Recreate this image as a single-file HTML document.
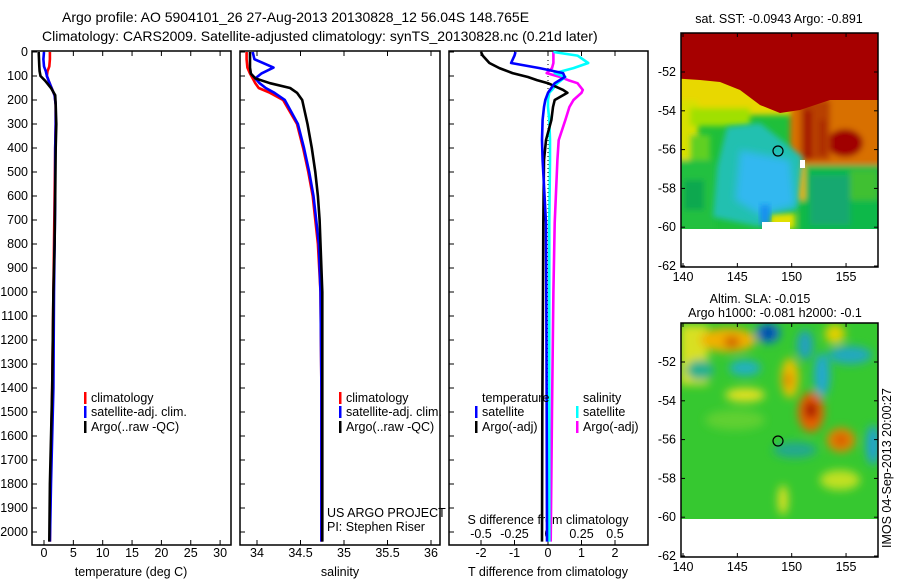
<!DOCTYPE html>
<html><head><meta charset="utf-8"><style>
html,body{margin:0;padding:0;background:#fff;}
svg{display:block;font-family:"Liberation Sans",sans-serif;}
text{font-size:12.5px;fill:#000;}
</style></head><body>
<svg id="chart" width="900" height="580" viewBox="0 0 900 580" xmlns="http://www.w3.org/2000/svg">
<defs>
<filter id="blur3" x="-20%" y="-20%" width="140%" height="140%"><feGaussianBlur stdDeviation="3"/></filter>
<filter id="blur4" x="-20%" y="-20%" width="140%" height="140%"><feGaussianBlur stdDeviation="4"/></filter>
<filter id="blur5" x="-30%" y="-30%" width="160%" height="160%"><feGaussianBlur stdDeviation="4.5"/></filter>
<clipPath id="clipM1"><rect x="681" y="33" width="197" height="196"/></clipPath>
<clipPath id="clipM2"><rect x="681" y="323" width="197" height="196"/></clipPath>
</defs>
<text x="62" y="22" style="font-size:14px">Argo profile: AO 5904101_26 27-Aug-2013 20130828_12 56.04S 148.765E</text>
<text x="42" y="41" style="font-size:14px">Climatology: CARS2009. Satellite-adjusted climatology: synTS_20130828.nc (0.21d later)</text>

<!-- Map 1 -->
<g>
<text x="779" y="23" text-anchor="middle">sat. SST: -0.0943 Argo: -0.891</text>
<g clip-path="url(#clipM1)">
<rect x="681" y="33" width="197" height="196" fill="#1fbf3a"/>
<g filter="url(#blur3)">
<rect x="670" y="70" width="140" height="45" fill="#e8d800"/>
<rect x="670" y="100" width="28" height="60" fill="#d8e000"/>
<rect x="690" y="108" width="60" height="18" fill="#a0e000"/>
<rect x="790" y="90" width="100" height="80" fill="#d87000"/>
<ellipse cx="845" cy="143" rx="18" ry="14" fill="#a00000"/>
<rect x="800" y="100" width="30" height="60" fill="#b84000"/>
<rect x="805" y="110" width="6" height="50" fill="#a00000"/>
<rect x="820" y="120" width="5" height="35" fill="#a82000"/>
<rect x="800" y="165" width="90" height="70" fill="#10b848"/>
<rect x="810" y="175" width="40" height="50" fill="#18a870"/>
<rect x="850" y="170" width="28" height="30" fill="#40c030"/>
<rect x="793" y="165" width="12" height="35" fill="#f0b000"/>
<rect x="670" y="160" width="45" height="70" fill="#20c040"/>
<rect x="690" y="135" width="20" height="25" fill="#60d020"/>
<rect x="684" y="180" width="20" height="30" fill="#10a850"/>
<rect x="770" y="213" width="25" height="16" fill="#e0e000"/>
</g>
<path d="M670 33 H890 V100 L830 100 L800 110 L780 113 L760 105 L740 90 L720 82 L700 80 L670 78 Z" fill="#a60000"/>
<path d="M727 127 L760 123 L803 157 L797 210 L770 213 L760 227 L713 217 L717 167 Z" fill="#20c0b0" filter="url(#blur3)"/>
<path d="M740 150 L790 160 L795 205 L760 215 L735 200 Z" fill="#30b8f0" filter="url(#blur4)"/>
<rect x="760" y="205" width="10" height="20" fill="#1890f0" filter="url(#blur3)"/>
<rect x="762" y="222" width="28" height="8" fill="#fff"/>
<rect x="800" y="160" width="5" height="8" fill="#fff"/>
</g>
<rect x="681" y="33" width="197" height="234" fill="none" stroke="#000" stroke-width="1.5"/>
<circle cx="778" cy="151" r="5" fill="none" stroke="#000" stroke-width="1.2"/>
</g>

<!-- Map 2 -->
<g>
<text x="760" y="303" text-anchor="middle">Altim. SLA: -0.015</text>
<text x="775" y="317" text-anchor="middle">Argo h1000: -0.081 h2000: -0.1</text>
<g clip-path="url(#clipM2)">
<rect x="681" y="323" width="197" height="196" fill="#36c830"/>
<g filter="url(#blur5)">
<rect x="680" y="325" width="28" height="60" fill="#d8e020"/>
<ellipse cx="728" cy="340" rx="28" ry="12" fill="#f0b000"/>
<ellipse cx="732" cy="342" rx="8" ry="6" fill="#d06000"/>
<ellipse cx="768" cy="333" rx="12" ry="10" fill="#1070d0"/>
<ellipse cx="768" cy="333" rx="5" ry="5" fill="#002080"/>
<ellipse cx="745" cy="368" rx="16" ry="8" fill="#20b0c0"/>
<ellipse cx="700" cy="370" rx="14" ry="10" fill="#20b090"/>
<ellipse cx="790" cy="378" rx="9" ry="20" fill="#e8c000"/>
<ellipse cx="788" cy="380" rx="4" ry="8" fill="#e08000"/>
<ellipse cx="805" cy="345" rx="8" ry="15" fill="#20a0c0"/>
<ellipse cx="822" cy="375" rx="8" ry="22" fill="#20a8d0"/>
<ellipse cx="850" cy="355" rx="22" ry="9" fill="#20a8c0"/>
<ellipse cx="835" cy="334" rx="10" ry="10" fill="#e0d000"/>
<ellipse cx="811" cy="412" rx="13" ry="20" fill="#e86000"/>
<ellipse cx="811" cy="410" rx="6" ry="9" fill="#a00000"/>
<ellipse cx="841" cy="440" rx="14" ry="12" fill="#e88000"/>
<ellipse cx="841" cy="440" rx="6" ry="5" fill="#d05000"/>
<ellipse cx="873" cy="445" rx="7" ry="20" fill="#20a0d0"/>
<ellipse cx="795" cy="450" rx="22" ry="8" fill="#22a890"/>
<ellipse cx="745" cy="395" rx="20" ry="7" fill="#e0e020"/>
<ellipse cx="735" cy="420" rx="30" ry="10" fill="#60d030"/>
<ellipse cx="840" cy="480" rx="20" ry="10" fill="#c0e020"/>
<ellipse cx="783" cy="500" rx="5" ry="15" fill="#e0e020"/>
</g>
</g>
<rect x="681" y="323" width="197" height="234" fill="none" stroke="#000" stroke-width="1.5"/>
<circle cx="778" cy="441" r="5" fill="none" stroke="#000" stroke-width="1.2"/>
<text transform="translate(891,548) rotate(-90)">IMOS 04-Sep-2013 20:00:27</text>
</g>
<g id="dyn"></g>
</svg>
<script>
// ---- data ----
const depthTicks = [0,100,200,300,400,500,600,700,800,900,1000,1100,1200,1300,1400,1500,1600,1700,1800,1900,2000];
const tTicks = [0,5,10,15,20,25,30];
const sTicks = [34,34.5,35,35.5,36];
const sTickLabels = ["34","34.5","35","35.5","36"];
const dtTicks = [-2,-1,0,1,2];
const dsTicks = [-0.5,-0.25,0,0.25,0.5];
const dsTickLabels = ["-0.5","-0.25","0","0.25","0.5"];
const latTicks = [-52,-54,-56,-58,-60,-62];
const lonTicks = [140,145,150,155];

const depth = [0,30,60,80,100,120,150,180,220,300,400,600,800,1000,1400,1800,2040];
const tempClim = [1.0,1.0,0.9,0.6,0.5,0.8,1.3,1.8,2.0,2.0,1.9,1.8,1.7,1.6,1.4,1.1,1.0];
const tempSat = [0.0,-0.1,0.0,0.3,0.5,0.8,1.3,1.8,2.0,2.0,1.9,1.9,1.8,1.7,1.6,1.2,1.0];
const tempArgo = [-0.9,-0.85,-0.8,-0.75,-0.6,0.2,1.2,1.9,2.0,2.1,2.0,1.9,1.8,1.6,1.4,1.0,0.9];

const salDepth = [0,30,65,90,110,130,150,170,200,300,400,500,600,700,800,1000,1400,2040];
const salClim = [33.88,33.88,33.89,33.92,33.95,33.98,34.02,34.15,34.3,34.46,34.53,34.59,34.64,34.67,34.70,34.73,34.74,34.74];
const salSat = [33.95,33.97,34.19,34.05,33.98,34.03,34.10,34.2,34.32,34.47,34.54,34.6,34.65,34.68,34.71,34.73,34.74,34.74];
const salArgo = [33.92,33.92,33.92,33.93,33.98,34.15,34.38,34.46,34.52,34.58,34.63,34.67,34.70,34.72,34.73,34.75,34.75,34.75];

const dDepth = [0,15,46,67,88,104,117,130,158,170,200,229,283,367,450,712,1000,1500,2040];
const dtSat = [-0.97,-1.0,-1.1,-0.25,0.45,0.5,0.35,0.2,0.06,0.0,-0.08,-0.12,-0.16,-0.18,-0.16,-0.06,-0.05,-0.04,-0.03];
const dtArgo = [-2.0,-1.95,-1.75,-1.45,-1.06,-0.6,-0.33,0.0,0.45,0.58,0.2,0.15,0.1,-0.06,-0.12,-0.14,-0.15,-0.17,-0.18];
const dsSat = [0.04,0.22,0.3,0.19,0.05,0.13,0.1,0.07,0.03,0.01,0.0,0.0,0.01,0.015,0.015,0.01,0.01,0.01,0.01];
const dsArgo = [0.04,0.04,0.04,0.03,-0.01,0.09,0.15,0.22,0.26,0.25,0.19,0.16,0.13,0.08,0.07,0.05,0.04,0.03,0.02];

// ---- scales ----
const yD = d => 52 + d*0.24;
const xT = t => 44 + t*5.87;
const xS = s => 257 + (s-34)*87;
const xDT = v => 548 + v*33.5;
const xDS = v => 548 + v*134;
const yLat1 = l => 72 + (-52 - l)*19.4;
const yLat2 = l => 362 + (-52 - l)*19.4;
const xLon = l => 683 + (l-140)*10.87;

const NS = "http://www.w3.org/2000/svg";
const root = document.getElementById('dyn');
function mk(tag, attrs, parent){
  const e = document.createElementNS(NS, tag);
  for (const k in attrs) e.setAttribute(k, attrs[k]);
  (parent||root).appendChild(e);
  return e;
}
function txt(x,y,s,anchor,parent){
  const t = mk('text',{x:x,y:y,'text-anchor':anchor||'start'},parent);
  t.textContent = s;
  return t;
}
function line(xs, ys, xf, color, name){
  let d = '';
  for (let i=0;i<xs.length;i++){ d += (i?'L':'M') + xf(xs[i]).toFixed(1) + ' ' + yD(ys[i]).toFixed(1); }
  const p = mk('path',{d:d,fill:'none',stroke:color,'stroke-width':2.6,'stroke-linejoin':'round'});
  
  
}
const panels = [[32,231],[240,440],[449,648]];
const pNames = ['temperature-panel','salinity-panel','difference-panel'];
panels.forEach((p,i)=>{
  const r = mk('rect',{x:p[0],y:51,width:p[1]-p[0],height:494,fill:'none',stroke:'#000','stroke-width':1.5});
  
  
});
// depth axis
depthTicks.forEach(d=>{
  const y = yD(d);
  mk('line',{x1:32,x2:37,y1:y,y2:y,stroke:'#000'});
  mk('line',{x1:240,x2:245,y1:y,y2:y,stroke:'#000'});
  mk('line',{x1:449,x2:454,y1:y,y2:y,stroke:'#000'});
  const t = txt(28,y+4,String(d),'end');
  
  
});
tTicks.forEach(v=>{
  const x = xT(v);
  mk('line',{x1:x,x2:x,y1:545,y2:540,stroke:'#000'});
  mk('line',{x1:x,x2:x,y1:51,y2:56,stroke:'#000'});
  const t = txt(x,557,String(v),'middle');
  
  
});
sTicks.forEach((v,i)=>{
  const x = xS(v);
  mk('line',{x1:x,x2:x,y1:545,y2:540,stroke:'#000'});
  mk('line',{x1:x,x2:x,y1:51,y2:56,stroke:'#000'});
  const t = txt(x,557,sTickLabels[i],'middle');
  
  
});
dtTicks.forEach(v=>{
  const x = xDT(v);
  mk('line',{x1:x,x2:x,y1:545,y2:540,stroke:'#000'});
  mk('line',{x1:x,x2:x,y1:51,y2:56,stroke:'#000'});
  const t = txt(x,557,String(v),'middle');
  
  
});
dsTicks.forEach((v,i)=>{
  const t = txt(xDS(v),538,dsTickLabels[i],'middle');
  
  
});
let xl;
xl = txt(131,576,'temperature (deg C)','middle');  
xl = txt(340,576,'salinity','middle');  
xl = txt(548,576,'T difference from climatology','middle');  
xl = txt(548,524,'S difference from climatology','middle');  
xl = txt(327,517,'US ARGO PROJECT');  
xl = txt(327,531,'PI: Stephen Riser');  

// series
line(tempClim, depth, xT, '#ff0000', 'temp-climatology-line');
line(tempSat, depth, xT, '#0000ff', 'temp-satellite-line');
line(tempArgo, depth, xT, '#000000', 'temp-argo-line');
line(salClim, salDepth, xS, '#ff0000', 'sal-climatology-line');
line(salSat, salDepth, xS, '#0000ff', 'sal-satellite-line');
line(salArgo, salDepth, xS, '#000000', 'sal-argo-line');
mk('line',{x1:548,x2:548,y1:60,y2:540,stroke:'#000','stroke-dasharray':'1 3'});
line(dsArgo, dDepth, xDS, '#ff00ff', 's-diff-argo-line');
line(dsSat, dDepth, xDS, '#00ffff', 's-diff-satellite-line');
line(dtArgo, dDepth, xDT, '#000000', 't-diff-argo-line');
line(dtSat, dDepth, xDT, '#0000ff', 't-diff-satellite-line');

// legends
function leg(x,y,color,label,name){
  const g = mk('g',{});
  
  
  mk('rect',{x:x,y:y-10,width:2.5,height:12,fill:color},g);
  txt(x+7,y,label,'start',g);
}
leg(84,402,'#ff0000','climatology','legend-climatology');
leg(84,416,'#0000ff','satellite-adj. clim.','legend-satellite-adj');
leg(84,431,'#000000','Argo(..raw -QC)','legend-argo-raw');
leg(339,402,'#ff0000','climatology','legend-sal-climatology');
leg(339,416,'#0000ff','satellite-adj. clim.','legend-sal-satellite-adj');
leg(339,431,'#000000','Argo(..raw -QC)','legend-sal-argo-raw');
xl = txt(482,402,'temperature');  
xl = txt(583,402,'salinity');  
leg(475,416,'#0000ff','satellite','legend-t-satellite');
leg(475,431,'#000000','Argo(-adj)','legend-t-argo');
leg(576,416,'#00ffff','satellite','legend-s-satellite');
leg(576,431,'#ff00ff','Argo(-adj)','legend-s-argo');

// map axes
[[yLat1,33,267],[yLat2,323,557]].forEach((m,mi)=>{
  latTicks.forEach(l=>{
    const y = m[0](l);
    mk('line',{x1:681,x2:685,y1:y,y2:y,stroke:'#000'});
    mk('line',{x1:874,x2:878,y1:y,y2:y,stroke:'#000'});
    const t = txt(676,y+4,String(l),'end');
    
    
  });
  lonTicks.forEach(l=>{
    const x = xLon(l);
    mk('line',{x1:x,x2:x,y1:m[2],y2:m[2]-4,stroke:'#000'});
    mk('line',{x1:x,x2:x,y1:m[1],y2:m[1]+4,stroke:'#000'});
    const t = txt(x,m[2]+14,String(l),'middle');
    
    
  });
});
</script>
</body></html>
